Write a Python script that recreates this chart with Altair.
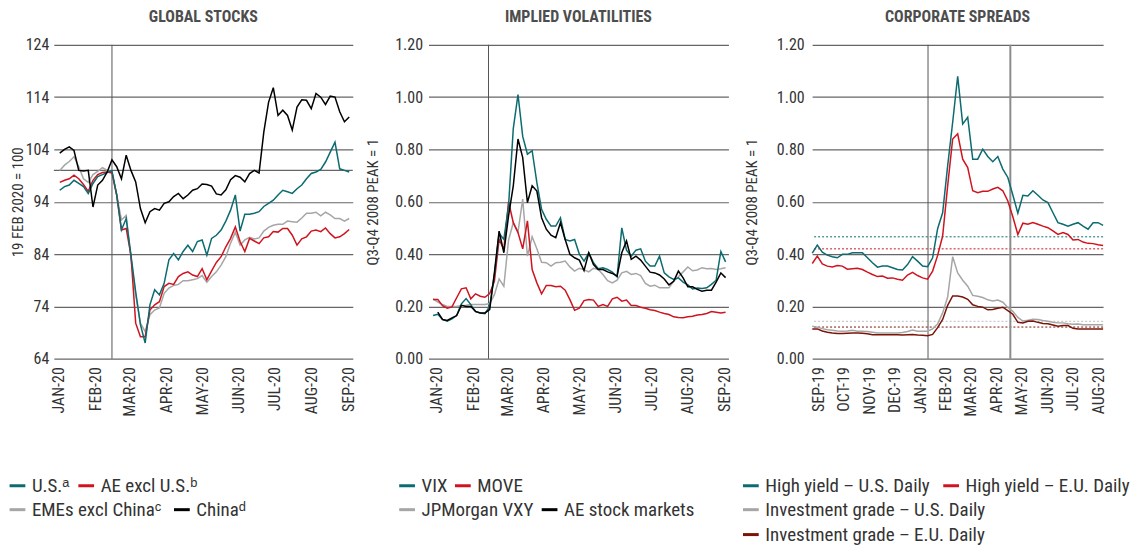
import altair as alt
import pandas as pd

# ---------------- Panel 1: GLOBAL STOCKS (19 Feb 2020 = 100), sampled every 4 days from 2 Jan 2020
stocks_start, stocks_step, stocks_n = "2020-01-02", "4D", 62
us = [96.2, 96.9, 97.2, 98.1, 97.5, 96.9, 95.6, 97.5, 98.8, 99.2, 99.6, 99.9, 95.3, 88.6, 90.8, 83.8,
      76.8, 70.5, 67.0, 74.3, 77.2, 76.2, 78.4, 82.9, 84.1, 82.9, 84.5, 85.7, 84.5, 86.4,
      86.7, 83.8, 87.0, 87.6, 88.6, 90.3, 92.4, 95.3, 88.4, 91.6, 91.6, 91.8, 92.1, 93.1, 93.7, 94.3,
      95.3, 96.2, 95.9, 95.6, 96.5, 97.2, 98.4, 99.4, 99.7, 100.2, 101.6, 103.5, 105.4, 100.3, 100.0, 99.7]
ae_ex_us = [97.7, 98.1, 98.4, 99.1, 98.4, 97.3, 96.0, 98.1, 99.2, 99.6, 99.7, 99.5, 95.3, 88.6, 88.9, 83.8,
            70.8, 68.2, 68.2, 73.3, 74.3, 74.9, 77.8, 78.4, 78.2, 79.7, 80.3, 80.6, 80.0, 79.7,
            81.2, 79.1, 80.8, 82.4, 83.5, 85.4, 87.0, 89.2, 86.4, 84.5, 87.0, 86.5, 86.0, 87.1, 87.3, 88.3,
            88.2, 88.9, 88.9, 87.6, 85.7, 86.9, 87.3, 88.4, 88.6, 88.3, 89.0, 87.9, 87.1, 87.3, 87.9, 88.7]
emes_ex_china = [100.0, 101.0, 101.7, 102.6, 100.7, 98.4, 97.7, 99.2, 99.8, 100.5, 100.0, 99.6, 95.3, 90.5, 91.4, 83.2,
                 76.2, 70.8, 69.2, 72.4, 73.3, 73.7, 76.5, 77.5, 78.0, 78.2, 78.9, 78.9, 79.1, 79.3,
                 79.9, 78.6, 79.7, 80.6, 81.9, 83.5, 86.1, 88.2, 85.7, 86.7, 87.2, 86.9, 87.1, 88.4, 89.1, 89.5,
                 89.7, 89.7, 90.3, 90.2, 90.1, 90.9, 91.8, 91.8, 92.0, 91.3, 92.0, 91.5, 90.8, 90.8, 90.3, 90.8]
china = [103.3, 104.0, 104.5, 103.8, 100.0, 99.9, 100.0, 93.0, 97.2, 98.1, 99.7, 102.0, 100.7, 98.4, 102.9, 100.0,
         97.8, 92.7, 90.0, 92.1, 92.7, 92.4, 93.7, 94.0, 95.0, 95.6, 94.6, 95.3, 96.2, 96.5,
         97.4, 97.3, 97.0, 95.5, 95.3, 96.3, 98.2, 99.0, 98.7, 97.8, 99.4, 100.0, 99.5, 107.3, 113.0, 115.8,
         110.5, 111.5, 110.5, 107.7, 112.1, 113.5, 113.4, 111.8, 114.7, 114.0, 112.6, 114.2, 114.0, 111.2, 109.3, 110.2]
stocks_names = ["U.S.\u1d43", "AE excl U.S.\u1d47", "EMEs excl China\u1d9c", "China\u1d48"]
stocks_ticks = [64, 74, 84, 94, 104, 114, 124]
stocks_ref_level = [100]
stocks_event = ["2020-02-15"]

# ---------------- Panel 2: IMPLIED VOLATILITIES (Q3-Q4 2008 peak = 1), every 4 days from 29 Dec 2019
vol_start, vol_step, vol_n = "2019-12-29", "4D", 63
vix = [0.165, 0.17, 0.15, 0.143, 0.152, 0.165, 0.21, 0.23, 0.207, 0.18, 0.175, 0.172, 0.20, 0.322, 0.48, 0.456,
       0.584, 0.88, 1.01, 0.85, 0.782, 0.795, 0.673, 0.571, 0.533, 0.507, 0.507, 0.539, 0.456, 0.45, 0.456,
       0.40, 0.373, 0.405, 0.367, 0.344, 0.348, 0.341, 0.331, 0.313, 0.50, 0.415, 0.392, 0.415, 0.42, 0.373, 0.354,
       0.354, 0.392, 0.328, 0.313, 0.303, 0.309, 0.293, 0.282, 0.267, 0.27, 0.268, 0.271, 0.284, 0.30, 0.41, 0.37]
move = [0.226, 0.226, 0.203, 0.193, 0.198, 0.233, 0.267, 0.271, 0.229, 0.248, 0.239, 0.235, 0.249, 0.296, 0.456, 0.418,
        0.60, 0.52, 0.482, 0.42, 0.527, 0.341, 0.29, 0.248, 0.28, 0.28, 0.275, 0.277, 0.262, 0.226, 0.185,
        0.193, 0.222, 0.226, 0.224, 0.20, 0.207, 0.20, 0.229, 0.235, 0.22, 0.224, 0.203, 0.203, 0.197, 0.193, 0.187,
        0.184, 0.178, 0.173, 0.169, 0.16, 0.158, 0.157, 0.16, 0.162, 0.167, 0.169, 0.173, 0.18, 0.178, 0.175, 0.178]
vxy = [0.229, 0.216, 0.207, 0.20, 0.20, 0.20, 0.203, 0.204, 0.207, 0.207, 0.207, 0.207, 0.211, 0.245, 0.305, 0.277,
       0.454, 0.52, 0.484, 0.61, 0.392, 0.466, 0.42, 0.369, 0.367, 0.354, 0.367, 0.369, 0.373, 0.351, 0.335,
       0.346, 0.34, 0.332, 0.346, 0.341, 0.322, 0.298, 0.29, 0.30, 0.328, 0.334, 0.322, 0.326, 0.318, 0.288, 0.277,
       0.281, 0.271, 0.271, 0.271, 0.296, 0.313, 0.332, 0.351, 0.336, 0.339, 0.348, 0.344, 0.345, 0.341, 0.344, 0.348]
ae_stocks = [None, 0.178, 0.15, 0.146, 0.156, 0.165, 0.204, 0.20, 0.20, 0.181, 0.175, 0.175, 0.188, 0.328, 0.488, 0.405,
             0.546, 0.661, 0.84, 0.769, 0.597, 0.661, 0.641, 0.539, 0.495, 0.472, 0.463, 0.52, 0.456, 0.399, 0.386,
             0.377, 0.337, 0.405, 0.36, 0.341, 0.341, 0.332, 0.326, 0.316, 0.405, 0.45, 0.38, 0.392, 0.377, 0.354, 0.331,
             0.328, 0.32, 0.305, 0.282, 0.296, 0.335, 0.309, 0.275, 0.275, 0.265, 0.258, 0.262, 0.262, 0.293, 0.328, 0.31]
vol_names = ["VIX", "MOVE", "JPMorgan VXY", "AE stock markets"]
vol_event = ["2020-02-14"]

# ---------------- Panel 3: CORPORATE SPREADS (Q3-Q4 2008 peak = 1), every 6 days from 25 Aug 2019
spr_start, spr_step, spr_n = "2019-08-25", "6D", 59
hy_us = [0.404, 0.434, 0.407, 0.396, 0.39, 0.386, 0.399, 0.399, 0.405, 0.405, 0.405, 0.386, 0.367, 0.35, 0.354,
         0.354, 0.348, 0.341, 0.339, 0.36, 0.39, 0.373, 0.354, 0.352, 0.386, 0.497, 0.558, 0.737, 0.904, 1.08,
         0.897, 0.923, 0.763, 0.763, 0.801, 0.773, 0.753, 0.773, 0.725, 0.693, 0.626, 0.556, 0.625, 0.622, 0.642,
         0.625, 0.607, 0.597, 0.558, 0.52, 0.514, 0.507, 0.514, 0.52, 0.507, 0.495, 0.52, 0.52, 0.51]
hy_eu = [0.364, 0.392, 0.362, 0.354, 0.351, 0.356, 0.354, 0.342, 0.344, 0.346, 0.341, 0.331, 0.322, 0.314, 0.316,
         0.308, 0.309, 0.304, 0.30, 0.32, 0.33, 0.318, 0.309, 0.304, 0.335, 0.395, 0.469, 0.661, 0.84, 0.86,
         0.763, 0.731, 0.642, 0.635, 0.64, 0.64, 0.649, 0.655, 0.642, 0.603, 0.543, 0.475, 0.518, 0.514, 0.521,
         0.514, 0.507, 0.501, 0.489, 0.475, 0.482, 0.475, 0.454, 0.456, 0.446, 0.441, 0.44, 0.436, 0.433]
ig_us = [0.124, 0.12, 0.115, 0.111, 0.109, 0.106, 0.105, 0.106, 0.109, 0.105, 0.105, 0.104, 0.101, 0.098, 0.098,
         0.098, 0.098, 0.098, 0.10, 0.104, 0.11, 0.105, 0.105, 0.105, 0.114, 0.133, 0.175, 0.236, 0.39, 0.328,
         0.30, 0.277, 0.242, 0.239, 0.234, 0.225, 0.221, 0.224, 0.216, 0.196, 0.181, 0.158, 0.144, 0.147, 0.151,
         0.15, 0.146, 0.143, 0.139, 0.137, 0.137, 0.134, 0.132, 0.133, 0.13, 0.13, 0.13, 0.13, 0.13]
ig_eu = [0.114, 0.114, 0.106, 0.101, 0.098, 0.096, 0.096, 0.097, 0.098, 0.098, 0.097, 0.095, 0.092, 0.092, 0.092,
         0.092, 0.092, 0.092, 0.091, 0.092, 0.093, 0.091, 0.09, 0.088, 0.093, 0.119, 0.15, 0.204, 0.24, 0.24,
         0.236, 0.227, 0.206, 0.20, 0.197, 0.187, 0.188, 0.193, 0.197, 0.184, 0.17, 0.139, 0.137, 0.143, 0.144,
         0.139, 0.135, 0.134, 0.129, 0.124, 0.127, 0.127, 0.116, 0.114, 0.114, 0.114, 0.114, 0.114, 0.114]
spr_names = ["High yield \u2013 U.S. Daily", "High yield \u2013 E.U. Daily",
             "Investment grade \u2013 U.S. Daily", "Investment grade \u2013 E.U. Daily"]
spr_averages = [0.466, 0.42, 0.143, 0.121]   # dotted reference levels (HY US, HY EU, IG US, IG EU)
spr_events = ["2020-01-10T12:00:00", "2020-04-18T00:00:00"]

vol_ticks = [0.0, 0.2, 0.4, 0.6, 0.8, 1.0, 1.2]

# ---------------- styling
TEAL, RED, GRAY, BLACK, DARKRED = "#0b6b70", "#d0141f", "#a6a6a6", "#000000", "#7a1408"
FONT = "'Liberation Sans Narrow', 'Arial Narrow', 'Roboto Condensed', 'Liberation Sans', sans-serif"
GRID = "#666666"
ROW = [433, 457, 482]          # legend row tops, relative to plot top
W1, W2, W3, H = 300, 301, 292, 315
GAP12, GAP23 = 76, 84


def long_frame(start, step, n, names, series):
    dates = pd.date_range(start, periods=n, freq=step)
    rows = []
    for name, vals in zip(names, series):
        for d, v in zip(dates, vals):
            if v is not None:
                rows.append({"date": d, "value": v, "series": name})
    return pd.DataFrame(rows)


def x_axis(pairs):
    return alt.Axis(values=[alt.DateTime(year=y, month=m, date=1) for y, m in pairs],
                    labelAngle=270, grid=False, ticks=False, domain=False, labelPadding=8, title=None,
                    labelExpr="upper(timeFormat(datum.value, '%b-%y'))")


def y_axis(ticks, fmt, title, title_pad, label_pad):
    return alt.Axis(values=ticks, format=fmt, grid=True, gridColor=GRID, gridWidth=1.2, ticks=False,
                    domain=False, title=title, titlePadding=title_pad, labelPadding=label_pad)


def legend(x, y):
    return alt.Legend(title=None, orient="none", legendX=x, legendY=y,
                      symbolType="stroke", symbolSize=250, symbolStrokeWidth=3,
                      labelFontSize=19, labelFont=FONT, labelColor="#333333",
                      labelOffset=5, padding=0, labelLimit=400)


def series_layer(df, name, color, xs, ys, leg_pos):
    return (alt.Chart(df).transform_filter(alt.datum.series == name)
            .mark_line(strokeWidth=1.5)
            .encode(x=alt.X("date:T", scale=xs[0], axis=xs[1]),
                    y=alt.Y("value:Q", scale=ys[0], axis=ys[1]),
                    color=alt.Color("series:N", scale=alt.Scale(domain=[name], range=[color]),
                                    legend=legend(*leg_pos))))


def hrule(values, color, dash, ys, width=1):
    return (alt.Chart(pd.DataFrame({"value": values})).mark_rule(color=color, strokeDash=dash, strokeWidth=width)
            .encode(y=alt.Y("value:Q", scale=ys[0], axis=ys[1])))


def vrule(dates, color, width, xs):
    return (alt.Chart(pd.DataFrame({"date": pd.to_datetime(dates)})).mark_rule(color=color, strokeWidth=width)
            .encode(x=alt.X("date:T", scale=xs[0], axis=xs[1])))


def title(text):
    return alt.TitleParams(text, anchor="middle", offset=12)


# ---------- Panel 1
df1 = long_frame(stocks_start, stocks_step, stocks_n, stocks_names, [us, ae_ex_us, emes_ex_china, china])
xs1 = (alt.Scale(domain=[alt.DateTime(year=2019, month=12, date=28), alt.DateTime(year=2020, month=9, date=5)]),
       x_axis([(2020, m) for m in range(1, 10)]))
ys1 = (alt.Scale(domain=[64, 124], nice=False, zero=False),
       y_axis(stocks_ticks, "d", "19 FEB 2020 = 100", 0, 5))
colors1 = dict(zip(stocks_names, [TEAL, RED, GRAY, BLACK]))
legpos1 = dict(zip(stocks_names, [(-46, ROW[0]), (23, ROW[0]), (-46, ROW[1]), (119, ROW[1])]))
p1 = alt.layer(
    hrule(stocks_ref_level, GRID, [1, 0], ys1, 1.2),
    vrule(stocks_event, "#555555", 1, xs1),
    *[series_layer(df1, n, colors1[n], xs1, ys1, legpos1[n])
      for n in [stocks_names[2], stocks_names[1], stocks_names[0], stocks_names[3]]]
).resolve_scale(color="independent").properties(width=W1, height=H, title=title("GLOBAL STOCKS"))

# ---------- Panel 2
df2 = long_frame(vol_start, vol_step, vol_n, vol_names, [vix, move, vxy, ae_stocks])
xs2 = (alt.Scale(domain=[alt.DateTime(year=2019, month=12, date=25, hours=3),
                         alt.DateTime(year=2020, month=9, date=4, hours=10)]),
       x_axis([(2020, m) for m in range(1, 10)]))
ys2 = (alt.Scale(domain=[0, 1.2], nice=False),
       y_axis(vol_ticks, ".2f", "Q3-Q4 2008 PEAK = 1", 14, 6))
colors2 = dict(zip(vol_names, [TEAL, RED, GRAY, BLACK]))
legpos2 = dict(zip(vol_names, [(-31, ROW[0]), (25, ROW[0]), (-31, ROW[1]), (112, ROW[1])]))
p2 = alt.layer(
    vrule(vol_event, "#555555", 1, xs2),
    *[series_layer(df2, n, colors2[n], xs2, ys2, legpos2[n])
      for n in [vol_names[2], vol_names[1], vol_names[0], vol_names[3]]]
).resolve_scale(color="independent").properties(width=W2, height=H, title=title("IMPLIED VOLATILITIES"))

# ---------- Panel 3
df3 = long_frame(spr_start, spr_step, spr_n, spr_names, [hy_us, hy_eu, ig_us, ig_eu])
xs3 = (alt.Scale(domain=[alt.DateTime(year=2019, month=8, date=24, hours=20),
                         alt.DateTime(year=2020, month=8, date=7)]),
       x_axis([(2019, m) for m in range(9, 13)] + [(2020, m) for m in range(1, 9)]))
ys3 = (alt.Scale(domain=[0, 1.2], nice=False),
       y_axis(vol_ticks, ".2f", "Q3-Q4 2008 PEAK = 1", 17, 8))
colors3 = dict(zip(spr_names, [TEAL, RED, GRAY, DARKRED]))
legpos3 = dict(zip(spr_names, [(-71, ROW[0]), (130, ROW[0]), (-71, ROW[1]), (-71, ROW[2])]))
avg_colors = [TEAL, RED, "#bdbdbd", DARKRED]
p3 = alt.layer(
    *[hrule([lvl], c, [2, 2], ys3) for lvl, c in zip(spr_averages, avg_colors)],
    vrule(spr_events[:1], "#555555", 1, xs3),
    vrule(spr_events[1:], "#8c8c8c", 2, xs3),
    *[series_layer(df3, n, colors3[n], xs3, ys3, legpos3[n])
      for n in [spr_names[2], spr_names[3], spr_names[0], spr_names[1]]]
).resolve_scale(color="independent").properties(width=W3, height=H, title=title("CORPORATE SPREADS"))


def spacer(w):
    return alt.Chart(pd.DataFrame({"v": [0]})).mark_point(opacity=0).properties(width=w, height=H)


chart = (alt.hconcat(p1, spacer(GAP12), p2, spacer(GAP23), p3, spacing=0, bounds="flush")
         .resolve_scale(color="independent", x="independent", y="independent")
         .properties(padding={"left": 0, "top": 0, "right": 0, "bottom": 0})
         .configure(font=FONT)
         .configure_view(stroke=None)
         .configure_axis(labelFont=FONT, labelFontSize=16, labelColor="#333333",
                         titleFont=FONT, titleFontSize=15, titleFontWeight="normal", titleColor="#333333")
         .configure_title(font=FONT, fontSize=16, fontWeight="bold", color="#4d4d4d")
         )

chart.save("out.html", embed_options={"renderer": "svg", "actions": False})
